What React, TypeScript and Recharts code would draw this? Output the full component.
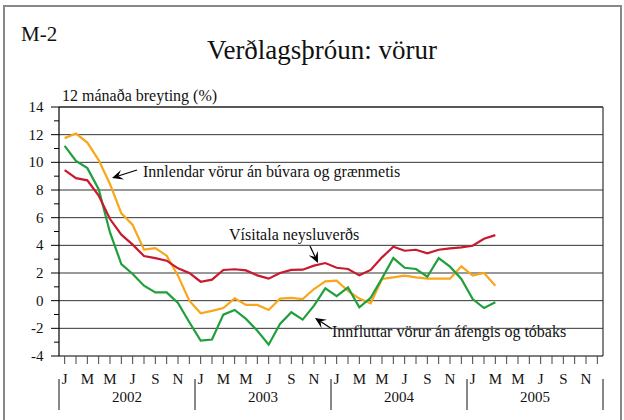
import React from 'react';
import { LineChart, Line, XAxis, YAxis, ReferenceLine, Customized } from 'recharts';

const YEARS = ['2002', '2003', '2004', '2005'];
const MONTHS = ['J', 'F', 'M', 'A', 'M', 'J', 'J', 'A', 'S', 'O', 'N', 'D'];
const Y_TICKS = [-4, -3, -2, -1, 0, 1, 2, 3, 4, 5, 6, 7, 8, 9, 10, 11, 12, 13, 14];
const GRID_VALUES = [-2, 0, 2, 4, 6, 8, 10, 12, 14];

// Vísitala neysluverðs (red)
const CPI = [
  9.44, 8.86, 8.7, 7.6, 5.9, 4.77, 4.05, 3.23, 3.08, 2.89, 2.34, 2.0,
  1.37, 1.52, 2.22, 2.27, 2.19, 1.83, 1.59, 2.0, 2.22, 2.24, 2.53, 2.72,
  2.38, 2.29, 1.83, 2.22, 3.13, 3.9, 3.61, 3.68, 3.42, 3.68, 3.78, 3.85,
  3.97, 4.48, 4.74,
];
// Innlendar vörur án búvara og grænmetis (orange)
const DOMESTIC = [
  11.75, 12.08, 11.43, 10.16, 8.43, 6.31, 5.47, 3.69, 3.8, 3.25, 1.81, 0.0,
  -0.91, -0.74, -0.53, 0.17, -0.31, -0.31, -0.67, 0.15, 0.2, 0.12, 0.84, 1.4,
  1.45, 0.7, 0.15, -0.19, 1.57, 1.69, 1.81, 1.69, 1.59, 1.59, 1.59, 2.48,
  1.81, 2.0, 1.08,
];
// Innfluttar vörur án áfengis og tóbaks (green)
const IMPORTED = [
  11.19, 10.11, 9.58, 8.06, 4.93, 2.65, 1.93, 1.08, 0.6, 0.6, -0.17, -1.56,
  -2.89, -2.81, -1.01, -0.67, -1.32, -2.17, -3.18, -1.68, -0.84, -1.37, -0.36, 0.89,
  0.32, 0.96, -0.48, 0.2, 1.61, 3.08, 2.38, 2.29, 1.73, 3.08, 2.46, 1.57,
  0.12, -0.53, -0.12,
];

const data: any[] = [];
YEARS.forEach((yr, yi) => {
  MONTHS.forEach((m, mi) => {
    const i = yi * 12 + mi;
    data.push({
      i,
      cpi: i < CPI.length ? CPI[i] : null,
      dom: i < DOMESTIC.length ? DOMESTIC[i] : null,
      imp: i < IMPORTED.length ? IMPORTED[i] : null,
    });
  });
});

const W = 624;
const H = 420;
const PLOT_LEFT = 59;
const PLOT_RIGHT = 603;
const PLOT_TOP = 107;
const PLOT_BOTTOM = 356;
const STEP = (PLOT_RIGHT - PLOT_LEFT) / data.length;
const FONT = '"Liberation Serif", "Times New Roman", serif';
const TXT = { fontFamily: FONT };

const YTick = (props: any) => {
  const { y, payload } = props;
  const v = payload.value;
  const major = v % 2 === 0;
  return (
    <g>
      <line x1={PLOT_LEFT - (major ? 8 : 5)} x2={PLOT_LEFT} y1={y} y2={y} stroke="#000" strokeWidth={1} />
      {major && (
        <text x={43.5} y={y} dy={5} textAnchor="end" fontSize={15} style={TXT} fill="#111">
          {v}
        </text>
      )}
    </g>
  );
};

const XTick = (props: any) => {
  const { x, payload } = props;
  const i = Number(payload.value);
  const mi = i % 12;
  const yi = Math.floor(i / 12);
  return (
    <g>
      <line x1={x} x2={x} y1={PLOT_BOTTOM} y2={PLOT_BOTTOM + 8} stroke="#444" strokeWidth={1} />
      {mi % 2 === 0 && (
        <text x={x} y={PLOT_BOTTOM + 28} textAnchor="middle" fontSize={15} style={TXT} fill="#111">
          {MONTHS[mi]}
        </text>
      )}
      {mi === 0 && (
        <line x1={x - STEP / 2} x2={x - STEP / 2} y1={PLOT_BOTTOM + 23} y2={PLOT_BOTTOM + 54} stroke="#111" />
      )}
      {i === data.length - 1 && (
        <line x1={x + STEP / 2} x2={x + STEP / 2} y1={PLOT_BOTTOM + 23} y2={PLOT_BOTTOM + 54} stroke="#111" />
      )}
      {mi === 6 && (
        <text x={x - STEP / 2} y={PLOT_BOTTOM + 46} textAnchor="middle" fontSize={15} style={TXT} fill="#111">
          {YEARS[yi]}
        </text>
      )}
    </g>
  );
};

const Arrow = ({ x1, y1, x2, y2 }: { x1: number; y1: number; x2: number; y2: number }) => {
  const dx = x2 - x1;
  const dy = y2 - y1;
  const len = Math.sqrt(dx * dx + dy * dy);
  const ux = dx / len;
  const uy = dy / len;
  const hl = 11;
  const hw = 5;
  const bx = x2 - ux * hl;
  const by = y2 - uy * hl;
  const nx = x2 - ux * hl * 0.6;
  const ny = y2 - uy * hl * 0.6;
  const pts = `${x2},${y2} ${bx - uy * hw},${by + ux * hw} ${nx},${ny} ${bx + uy * hw},${by - ux * hw}`;
  return (
    <g>
      <line x1={x1} y1={y1} x2={nx} y2={ny} stroke="#000" strokeWidth={1.2} />
      <polygon points={pts} fill="#000" />
    </g>
  );
};

const Boxes = () => (
  <g>
    <rect x={108} y={150} width={305} height={36} fill="#fff" />
    <rect x={208} y={206} width={170} height={50} fill="#fff" />
    <rect x={303} y={319} width={276} height={26} fill="#fff" />
    <line x1={PLOT_LEFT} x2={PLOT_RIGHT} y1={PLOT_TOP} y2={PLOT_TOP} stroke="#000" strokeWidth={1.2} />
    <line x1={PLOT_RIGHT} x2={PLOT_RIGHT} y1={PLOT_TOP} y2={PLOT_BOTTOM} stroke="#666" strokeWidth={1.6} />
  </g>
);

const Labels = () => (
  <g fontSize={16} fill="#111" style={TXT}>
    <text x={143} y={177} style={TXT}>Innlendar vörur án búvara og grænmetis</text>
    <Arrow x1={137} y1={170} x2={112} y2={178} />
    <text x={229} y={240} style={TXT}>Vísitala neysluverðs</text>
    <Arrow x1={310} y1={246} x2={318} y2={263} />
    <text x={332} y={337} style={TXT}>Innfluttar vörur án áfengis og tóbaks</text>
    <Arrow x1={332} y1={329} x2={315} y2={318} />
  </g>
);

export default function App() {
  return (
    <div style={{ position: 'absolute', left: 0, top: 0, width: W, height: H, background: '#fff', fontFamily: FONT }}>
      <LineChart
        width={W}
        height={H}
        data={data}
        margin={{ top: PLOT_TOP, right: W - PLOT_RIGHT, bottom: 0, left: 0 }}
        style={TXT}
      >
        <XAxis
          dataKey="i"
          type="category"
          interval={0}
          height={H - PLOT_BOTTOM}
          padding={{ left: STEP / 2, right: STEP / 2 }}
          tick={XTick}
          tickLine={false}
          axisLine={{ stroke: '#000', strokeWidth: 1.2 }}
        />
        <YAxis
          type="number"
          domain={[-4, 14]}
          ticks={Y_TICKS}
          interval={0}
          width={PLOT_LEFT}
          tick={YTick}
          tickLine={false}
          axisLine={{ stroke: '#000', strokeWidth: 1.2 }}
        />
        {GRID_VALUES.map((v) => (
          <ReferenceLine key={v} y={v} stroke="#333" strokeWidth={1} />
        ))}
        <Customized component={Boxes} />
        <Line type="linear" dataKey="dom" stroke="#f9a61a" strokeWidth={2.2} dot={false} isAnimationActive={false} />
        <Line type="linear" dataKey="imp" stroke="#1fa03b" strokeWidth={2.2} dot={false} isAnimationActive={false} />
        <Line type="linear" dataKey="cpi" stroke="#c8192e" strokeWidth={2.2} dot={false} isAnimationActive={false} />
        <Customized component={Labels} />
      </LineChart>
      <svg
        width={W}
        height={H}
        style={{ position: 'absolute', left: 0, top: 0, pointerEvents: 'none' }}
      >
        <rect x={4} y={6} width={617} height={430} fill="none" stroke="#888" strokeWidth={2} />
        <text x={21} y={41} fontSize={21} style={TXT} fill="#111">M-2</text>
        <text x={322} y={59} textAnchor="middle" fontSize={27} style={TXT} fill="#111">
          Verðlagsþróun: vörur
        </text>
        <text x={62} y={101} fontSize={16} style={TXT} fill="#111">12 mánaða breyting (%)</text>
      </svg>
    </div>
  );
}
